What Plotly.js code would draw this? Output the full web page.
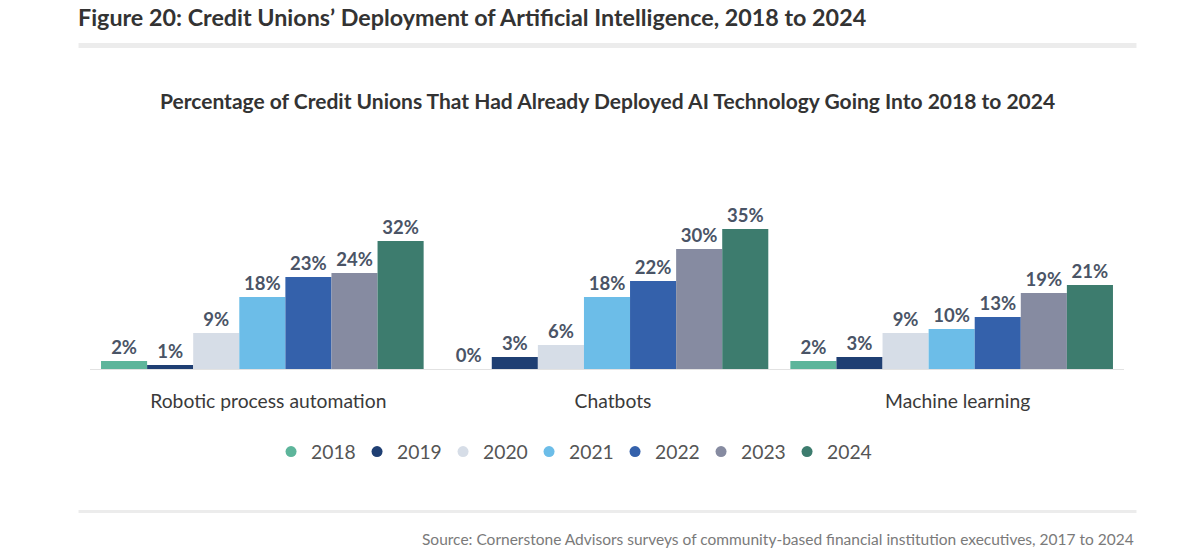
<!DOCTYPE html>
<html><head><meta charset="utf-8">
<script src="https://cdn.plot.ly/plotly-3.0.1.min.js"></script>
<style>html,body{margin:0;padding:0;background:#fff}#chart{width:1200px;height:555px}</style>
</head><body><div id="chart"></div>
<script>
const categories = ["Robotic process automation", "Chatbots", "Machine learning"];
const years = ["2018", "2019", "2020", "2021", "2022", "2023", "2024"];
const values2018 = [2, 0, 2];
const values2019 = [1, 3, 3];
const values2020 = [9, 6, 9];
const values2021 = [18, 18, 10];
const values2022 = [23, 22, 13];
const values2023 = [24, 30, 19];
const values2024 = [32, 35, 21];
const seriesValues = [values2018, values2019, values2020, values2021, values2022, values2023, values2024];
const colors = ["#5db59b", "#1f3f73", "#d6dde7", "#6cbde8", "#3461ab", "#868ba1", "#3d7c6e"];

const FONT = "Lato, 'Open Sans', sans-serif";
const barTraces = years.map((yr, i) => ({
  type: "bar", name: yr, x: categories, y: seriesValues[i], legendgroup: yr, showlegend: false,
  marker: {color: colors[i]},
  texttemplate: "%{y}%", textposition: "outside", cliponaxis: false,
  textfont: {family: FONT, size: 18.5, color: "#4a5466", weight: "bold"},
  hoverinfo: "skip"
}));
// legend-only traces to show circular legend symbols
const legendTraces = years.map((yr, i) => ({
  type: "scatter", mode: "markers", name: yr, x: [null], y: [null], legendgroup: yr,
  marker: {color: colors[i], size: 11, symbol: "circle"}, hoverinfo: "skip"
}));

const L = 89.5, W = 1035, B0 = 369, PH = 200;
const px = v => (v - L) / W;
const py = v => (B0 - v) / PH;

const layout = {
  width: 1200, height: 555,
  margin: {l: L, r: 1200 - L - W, t: B0 - PH, b: 555 - B0},
  paper_bgcolor: "#fff", plot_bgcolor: "#fff",
  barmode: "group", bargap: 0.064, bargroupgap: 0,
  font: {family: FONT, color: "#333"},
  title: {text: "Figure 20: Credit Unions’ Deployment of Artificial Intelligence, 2018 to 2024",
    x: 78/1200, xanchor: "left", xref: "container", y: 1 - 18/555, yref: "container", yanchor: "middle",
    font: {family: FONT, size: 23.3, color: "#333", weight: "bold"}},
  xaxis: {type: "category", showline: true, linecolor: "#e2e2e2", linewidth: 1, ticks: "", showgrid: false,
    tickfont: {family: FONT, size: 19.3, color: "#3a3a3a"}, ticklabelstandoff: 15, ticklabelshift: 6,
    fixedrange: true},
  yaxis: {range: [0, 50], visible: false, showgrid: false, zeroline: false, fixedrange: true},
  showlegend: true,
  legend: {orientation: "h", x: px(572), xanchor: "center", y: py(452), yanchor: "middle",
    font: {family: FONT, size: 19.3, color: "#555"}, traceorder: "normal", itemwidth: 30,
    entrywidth: 41, entrywidthmode: "pixels"},
  shapes: [
    {type: "rect", xref: "paper", yref: "paper", x0: px(78), x1: px(1137), y0: py(48), y1: py(43),
     fillcolor: "#ececec", line: {width: 0}},
    {type: "rect", xref: "paper", yref: "paper", x0: px(78), x1: px(1137), y0: py(513), y1: py(510),
     fillcolor: "#ececec", line: {width: 0}}
  ],
  annotations: [
    {text: "Percentage of Credit Unions That Had Already Deployed AI Technology Going Into 2018 to 2024",
     xref: "paper", yref: "paper", x: px(607), y: py(100), xanchor: "center", yanchor: "middle", showarrow: false,
     font: {family: FONT, size: 21, color: "#333", weight: "bold"}},
    {text: "Source: Cornerstone Advisors surveys of community-based financial institution executives, 2017 to 2024",
     xref: "paper", yref: "paper", x: px(1137), y: py(539), xanchor: "right", yanchor: "middle", showarrow: false,
     font: {family: FONT, size: 15.5, color: "#7a7a7a"}}
  ]
};

Plotly.newPlot("chart", barTraces.concat(legendTraces), layout, {displayModeBar: false, staticPlot: true});
</script></body></html>
